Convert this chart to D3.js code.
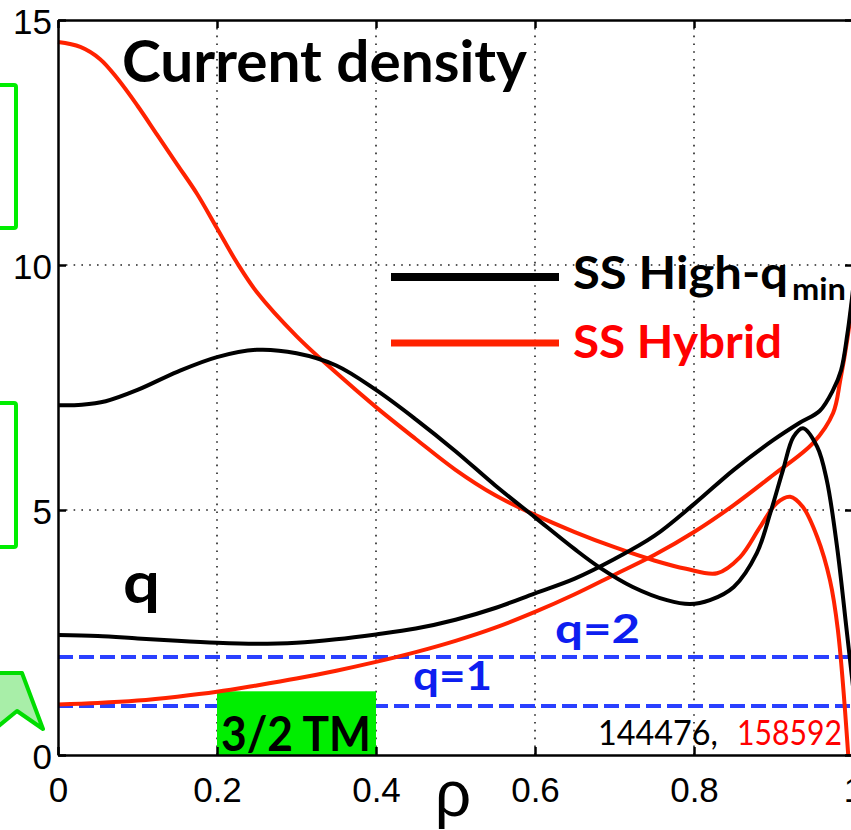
<!DOCTYPE html>
<html lang="en">

<head>
    <meta charset="UTF-8">
    <title>Current density and q profiles</title>
    <style>
        body {
            margin: 0;
            background: white;
        }

        .axis path,
        .axis line {
            stroke: black;
            stroke-width: 2.5px;
        }

        .axis text {
            font-family: 'Liberation Sans', Arial, sans-serif;
            font-size: 35px;
            fill: black;
        }

        .grid line {
            stroke: #222;
            stroke-width: 1.6px;
            stroke-dasharray: 1.6 6.2;
        }

        .label {
            font-family: 'Century Gothic', Lato, sans-serif;
            font-weight: bold;
        }
    </style>
</head>

<body>
    <div class="fig"></div>

    <script src="https://d3js.org/d3.v7.min.js"></script>
    <script>
        // Profiles: [rho, value]
        const jHighQmin = [
            [0, 7.14], [0.03, 7.15], [0.06, 7.22], [0.1, 7.45], [0.15, 7.82], [0.2, 8.12],
            [0.25, 8.27], [0.3, 8.2], [0.35, 7.95], [0.4, 7.45], [0.45, 6.85], [0.5, 6.2],
            [0.55, 5.5], [0.6, 4.85], [0.65, 4.2], [0.682, 3.82], [0.723, 3.43], [0.766, 3.16],
            [0.795, 3.08], [0.82, 3.16], [0.85, 3.43], [0.879, 4.12], [0.896, 4.94], [0.912, 5.82],
            [0.925, 6.49], [0.937, 6.67], [0.955, 6.29], [0.967, 5.61], [0.98, 4.24], [0.992, 2.55],
            [1.0, 1.4]
        ];
        const jHybrid = [
            [0, 14.55], [0.028, 14.45], [0.053, 14.2], [0.075, 13.8], [0.1, 13.25], [0.125, 12.65],
            [0.15, 12.05], [0.175, 11.45], [0.2, 10.75], [0.225, 10.05], [0.25, 9.45], [0.3, 8.55],
            [0.35, 7.8], [0.4, 7.1], [0.45, 6.45], [0.5, 5.82], [0.55, 5.3], [0.6, 4.9],
            [0.65, 4.55], [0.7, 4.24], [0.75, 3.97], [0.79, 3.8], [0.829, 3.71], [0.858, 4.04],
            [0.883, 4.65], [0.904, 5.14], [0.921, 5.27], [0.937, 5.06], [0.955, 4.45], [0.971, 3.57],
            [0.981, 2.55], [0.994, 0]
        ];
        const qHighQmin = [
            [0, 2.45], [0.05, 2.43], [0.1, 2.38], [0.15, 2.33], [0.2, 2.29], [0.25, 2.27],
            [0.3, 2.29], [0.35, 2.36], [0.4, 2.46], [0.45, 2.58], [0.5, 2.76], [0.55, 3.0],
            [0.6, 3.3], [0.65, 3.6], [0.7, 4.0], [0.75, 4.47], [0.8, 5.12],
            [0.85, 5.82], [0.9, 6.43], [0.933, 6.78], [0.958, 7.02], [0.975, 7.45], [0.985, 7.85],
            [0.993, 8.6], [1.0, 9.5]
        ];
        const qHybrid = [
            [0, 1.03], [0.05, 1.06], [0.1, 1.11], [0.15, 1.19], [0.2, 1.29], [0.25, 1.42],
            [0.3, 1.56], [0.35, 1.72], [0.4, 1.9], [0.45, 2.1], [0.5, 2.33], [0.55, 2.6],
            [0.6, 2.92], [0.65, 3.28], [0.7, 3.68], [0.75, 4.08], [0.8, 4.55], [0.85, 5.1],
            [0.9, 5.72], [0.95, 6.37], [0.975, 6.98], [0.984, 7.65], [0.993, 8.5], [1.0, 9.4]
        ];

        // Rational surfaces and the 3/2 TM region
        const qLevels = [1, 2];
        const qLevelLabels = ["q=1", "q=2"];
        const tmRange = [0.2, 0.4];
        const tmTop = 1.3;

        // Ticks and grid
        const xTicks = [0, 0.2, 0.4, 0.6, 0.8, 1];
        const yTicks = [0, 5, 10, 15];
        const xGrid = [0.2, 0.4, 0.6, 0.8];
        const yGrid = [5, 10];

        const shots = ["144476, ", "158592"];

        const svgWidth = 851;
        const svgHeight = 830;
        const plot = { left: 58, right: 853, top: 20, bottom: 755 };

        const red = "#ff2200";
        const blue = "#2a40ff";

        const svg = d3.select(".fig").append("svg")
            .attr("width", svgWidth)
            .attr("height", svgHeight)
            .style("display", "block");

        const x = d3.scaleLinear().domain([0, 1]).range([plot.left, plot.right]);
        const y = d3.scaleLinear().domain([0, 15]).range([plot.bottom, plot.top]);

        // Green markers at the left edge (parts of a wider slide)
        svg.append("rect")
            .attr("x", -30).attr("y", 85).attr("width", 46).attr("height", 143).attr("rx", 2)
            .attr("fill", "none").attr("stroke", "#00ee00").attr("stroke-width", 4);
        svg.append("rect")
            .attr("x", -30).attr("y", 403).attr("width", 46).attr("height", 144).attr("rx", 2)
            .attr("fill", "none").attr("stroke", "#00ee00").attr("stroke-width", 4);
        svg.append("polygon")
            .attr("points", "-10,673 22,673 43,729 17,711 -10,733")
            .attr("fill", "#a8eea8").attr("stroke", "#00dd00").attr("stroke-width", 4)
            .attr("stroke-linejoin", "round");

        // Dotted grid
        const grid = svg.append("g").attr("class", "grid");
        grid.selectAll(".gx")
            .data(xGrid)
            .enter()
            .append("line")
            .attr("x1", d => x(d)).attr("x2", d => x(d))
            .attr("y1", plot.top).attr("y2", plot.bottom);
        grid.selectAll(".gy")
            .data(yGrid)
            .enter()
            .append("line")
            .attr("x1", plot.left).attr("x2", plot.right)
            .attr("y1", d => y(d)).attr("y2", d => y(d));

        // q = 1, 2 dashed lines
        svg.selectAll(".qline")
            .data(qLevels)
            .enter()
            .append("line")
            .attr("x1", plot.left).attr("x2", plot.right)
            .attr("y1", d => y(d)).attr("y2", d => y(d))
            .attr("stroke", blue)
            .attr("stroke-width", 4)
            .attr("stroke-dasharray", "15 6");

        // 3/2 TM band
        svg.append("rect")
            .attr("x", x(tmRange[0]))
            .attr("y", y(tmTop))
            .attr("width", x(tmRange[1]) - x(tmRange[0]))
            .attr("height", y(0) - y(tmTop))
            .attr("fill", "#00ee00");

        // Profiles
        const line = d3.line()
            .x(d => x(d[0]))
            .y(d => y(d[1]))
            .curve(d3.curveCatmullRom.alpha(0.5));

        const series = [
            { data: qHybrid, color: red },
            { data: jHybrid, color: red },
            { data: qHighQmin, color: "black" },
            { data: jHighQmin, color: "black" }
        ];

        svg.selectAll(".profile")
            .data(series)
            .enter()
            .append("path")
            .attr("d", d => line(d.data))
            .attr("fill", "none")
            .attr("stroke", d => d.color)
            .attr("stroke-width", 4)
            .attr("stroke-linejoin", "round");

        // Axes: ticks point inward, box on all four sides
        const xAxisG = svg.append("g")
            .attr("class", "axis")
            .attr("transform", `translate(0,${plot.bottom})`)
            .call(d3.axisBottom(x).tickValues(xTicks).tickSize(-8).tickSizeOuter(0)
                .tickFormat(d => String(d)));
        svg.append("g")
            .attr("class", "axis")
            .attr("transform", `translate(0,${plot.top})`)
            .call(d3.axisTop(x).tickValues(xTicks).tickSize(-8).tickSizeOuter(0).tickFormat(""));
        const yAxisG = svg.append("g")
            .attr("class", "axis")
            .attr("transform", `translate(${plot.left},0)`)
            .call(d3.axisLeft(y).tickValues(yTicks).tickSize(-8).tickSizeOuter(0).tickPadding(6)
                .tickFormat(d => String(d)));
        svg.append("g")
            .attr("class", "axis")
            .attr("transform", `translate(${plot.right},0)`)
            .call(d3.axisRight(y).tickValues(yTicks).tickSize(-8).tickSizeOuter(0).tickFormat(""));

        xAxisG.selectAll("text").attr("dy", null).attr("y", 47);
        yAxisG.selectAll("text").attr("dy", null).attr("y", 13);

        // rho axis label
        svg.append("text")
            .attr("x", 453).attr("y", 816)
            .attr("text-anchor", "middle")
            .style("font-family", "'Liberation Sans', Arial, sans-serif")
            .style("font-size", "64px")
            .text("ρ");

        // Titles and annotations
        svg.append("text").attr("class", "label")
            .attr("x", 122).attr("y", 82)
            .attr("textLength", 405).attr("lengthAdjust", "spacingAndGlyphs")
            .style("font-size", "58px")
            .text("Current density");

        svg.append("text").attr("class", "label")
            .attr("x", 123).attr("y", 603)
            .attr("textLength", 37).attr("lengthAdjust", "spacingAndGlyphs")
            .style("font-size", "58px")
            .text("q");

        svg.selectAll(".qlabel")
            .data(qLevels)
            .enter()
            .append("text")
            .attr("class", "label")
            .attr("x", (d, i) => i === 0 ? 413 : 555)
            .attr("y", (d, i) => y(d) - (i === 0 ? 16 : 14))
            .attr("textLength", (d, i) => i === 0 ? 79 : 85)
            .attr("lengthAdjust", "spacingAndGlyphs")
            .style("font-size", "41px")
            .style("fill", "#0d1ef0")
            .text((d, i) => qLevelLabels[i]);

        svg.append("text").attr("class", "label")
            .attr("x", 221).attr("y", 751)
            .attr("textLength", 150).attr("lengthAdjust", "spacingAndGlyphs")
            .style("font-size", "48px")
            .text("3/2 TM");

        // Legend
        const legend = [
            { label: "SS High-q", sub: "min", color: "black", text: "black", y: 277, width: 8, len: 215 },
            { label: "SS Hybrid", sub: "", color: red, text: "#ff0000", y: 343, width: 7, len: 209 }
        ];
        legend.forEach(item => {
            svg.append("line")
                .attr("x1", 391).attr("x2", 559)
                .attr("y1", item.y).attr("y2", item.y)
                .attr("stroke", item.color)
                .attr("stroke-width", item.width);
            svg.append("text").attr("class", "label")
                .attr("x", 573).attr("y", item.y + 12 + (item.sub ? 0 : 3))
                .attr("textLength", item.len).attr("lengthAdjust", "spacingAndGlyphs")
                .style("font-size", "46px")
                .style("fill", item.text)
                .text(item.label);
            if (item.sub) {
                svg.append("text").attr("class", "label")
                    .attr("x", 792).attr("y", item.y + 23)
                    .attr("textLength", 54).attr("lengthAdjust", "spacingAndGlyphs")
                    .style("font-size", "30px")
                    .style("fill", item.text)
                    .text(item.sub);
            }
        });

        // Shot numbers
        const shotText = svg.append("text")
            .attr("y", 745)
            .style("font-family", "'Century Gothic', Lato, sans-serif")
            .style("font-size", "34px");
        shotText.append("tspan").attr("x", 598).attr("textLength", 128).attr("lengthAdjust", "spacingAndGlyphs")
            .style("fill", "black").text(shots[0]);
        shotText.append("tspan").attr("x", 737).attr("textLength", 105).attr("lengthAdjust", "spacingAndGlyphs")
            .style("fill", "#ff0000").text(shots[1]);
    </script>
</body>

</html>
